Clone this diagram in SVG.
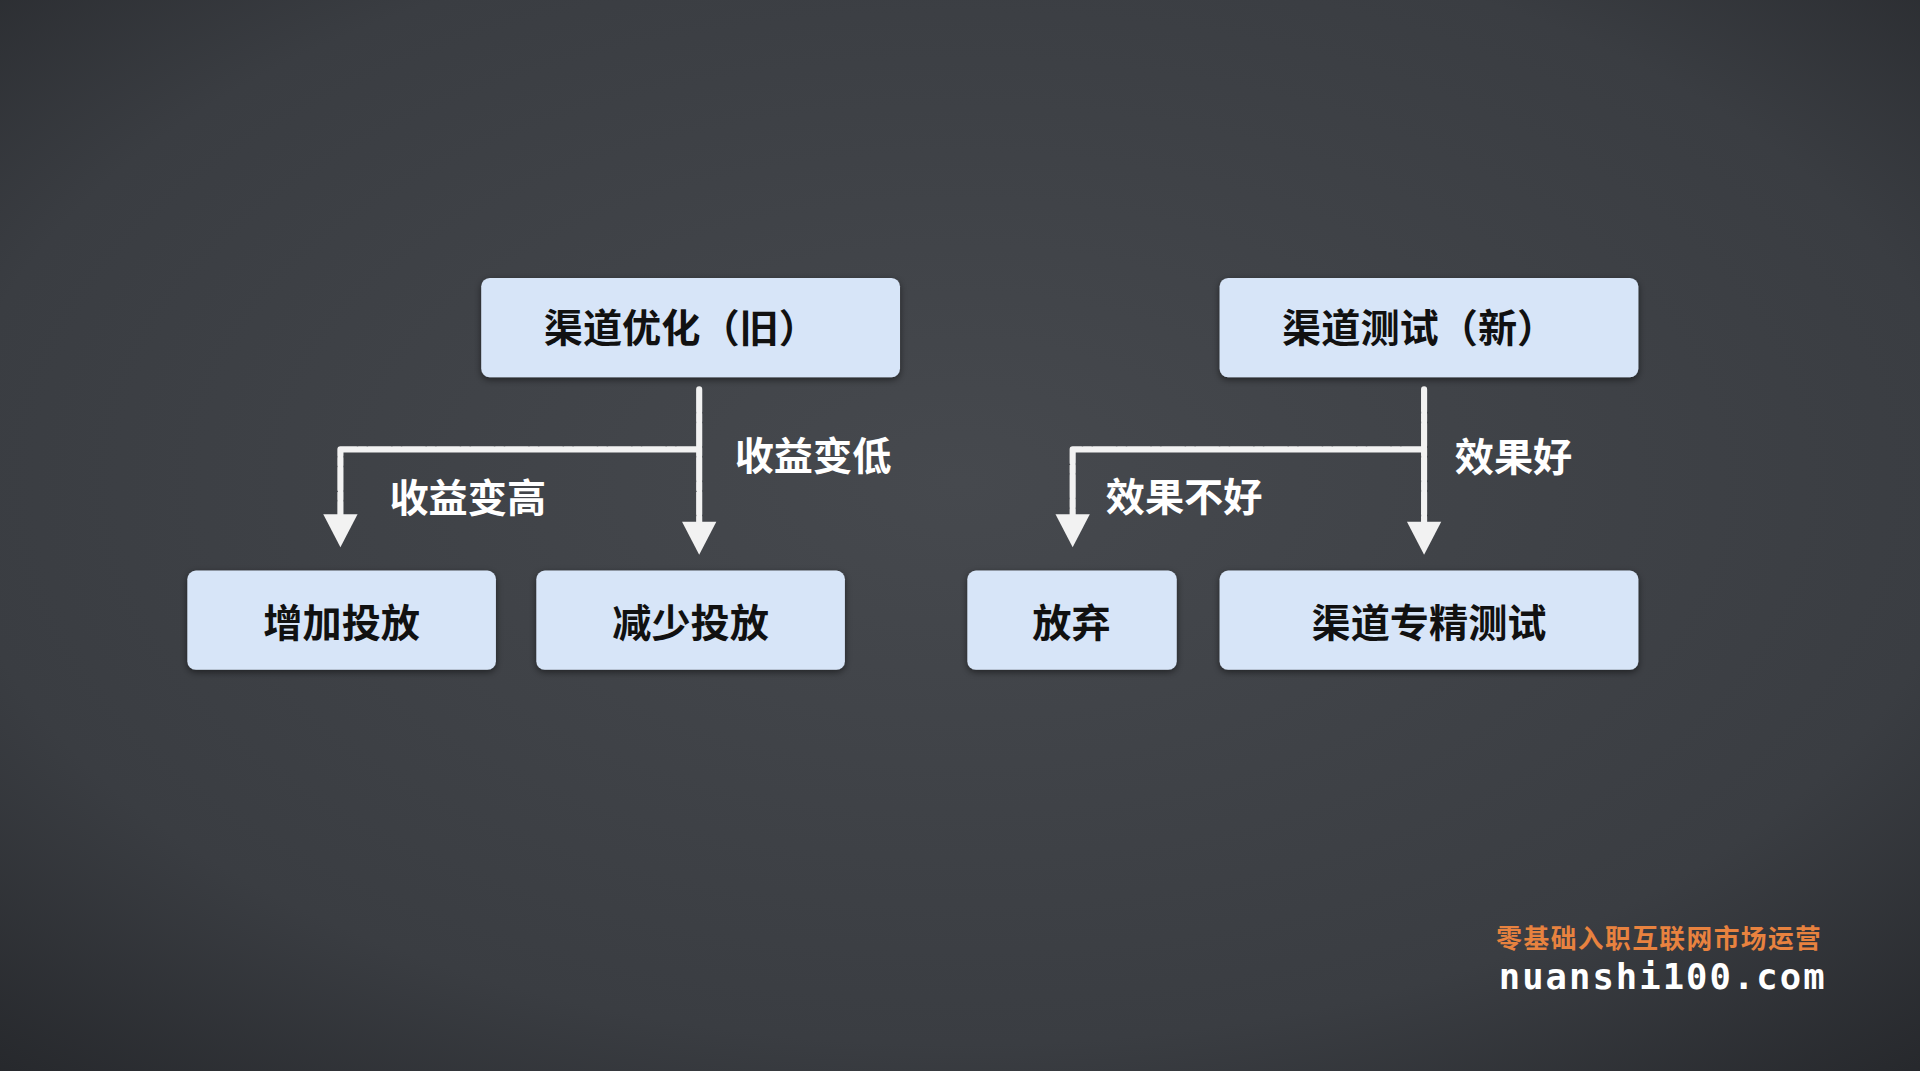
<svg xmlns="http://www.w3.org/2000/svg" width="1920" height="1071" viewBox="0 0 1920 1071">
<defs>
<radialGradient id="bg" cx="50%" cy="45%" r="75%">
<stop offset="0" stop-color="#46494e"/><stop offset="0.7" stop-color="#3a3d42"/><stop offset="1" stop-color="#26282c"/>
</radialGradient>
<filter id="sh"><feDropShadow dx="0" dy="2" stdDeviation="3" flood-color="#000" flood-opacity="0.5"/></filter>
</defs>
<style>
.box{fill:#d7e5f8;filter:url(#sh)}
.bt{font-family:"Noto Sans CJK SC",sans-serif;font-weight:bold;font-size:32px;fill:#111;text-anchor:middle}
.lb{font-family:"Noto Sans CJK SC",sans-serif;font-weight:bold;font-size:32px;fill:#fff}
.ln{fill:none;stroke:#f2f2f2;stroke-width:5;stroke-linecap:round;stroke-linejoin:round;stroke-dasharray:18 2 6 2}
.hd{fill:#f2f2f2}
</style>
<rect width="1920" height="1071" fill="url(#bg)"/>
<g transform="scale(1.2245)">
<g id="connectors">
<path class="ln" d="M571 318 V438 M571 367 H278 V432"/>
<path class="ln" d="M1163 318 V438 M1163 367 H876 V432"/>
<path class="hd" d="M557 426 L585 426 L571 453 Z"/>
<path class="hd" d="M264 420 L292 420 L278 447 Z"/>
<path class="hd" d="M1149 426 L1177 426 L1163 453 Z"/>
<path class="hd" d="M862 420 L890 420 L876 447 Z"/>
<text class="lb" x="600" y="384">收益变低</text>
<text class="lb" x="318" y="418">收益变高</text>
<text class="lb" x="1188" y="385">效果好</text>
<text class="lb" x="903" y="417">效果不好</text>
</g>
<g id="n1"><rect class="box" x="393" y="227" width="342" height="81" rx="7"/><text class="bt" x="556" y="279">渠道优化（旧）</text></g>
<g id="n2"><rect class="box" x="996" y="227" width="342" height="81" rx="7"/><text class="bt" x="1159" y="279">渠道测试（新）</text></g>
<g id="n3"><rect class="box" x="153" y="466" width="252" height="81" rx="7"/><text class="bt" x="279" y="520">增加投放</text></g>
<g id="n4"><rect class="box" x="438" y="466" width="252" height="81" rx="7"/><text class="bt" x="564" y="520">减少投放</text></g>
<g id="n5"><rect class="box" x="790" y="466" width="171" height="81" rx="7"/><text class="bt" x="875" y="520">放弃</text></g>
<g id="n6"><rect class="box" x="996" y="466" width="342" height="81" rx="7"/><text class="bt" x="1167" y="520">渠道专精测试</text></g>
<g id="watermark">
<text x="1222" y="774" font-family="Noto Sans CJK SC,sans-serif" font-size="21" font-weight="bold" fill="#e8823f" textLength="265">零基础入职互联网市场运营</text>
<text x="1224" y="808" font-family="DejaVu Sans Mono,monospace" font-size="29" font-weight="bold" fill="#fff" textLength="266">nuanshi100.com</text>
</g>
</g>
</svg>
